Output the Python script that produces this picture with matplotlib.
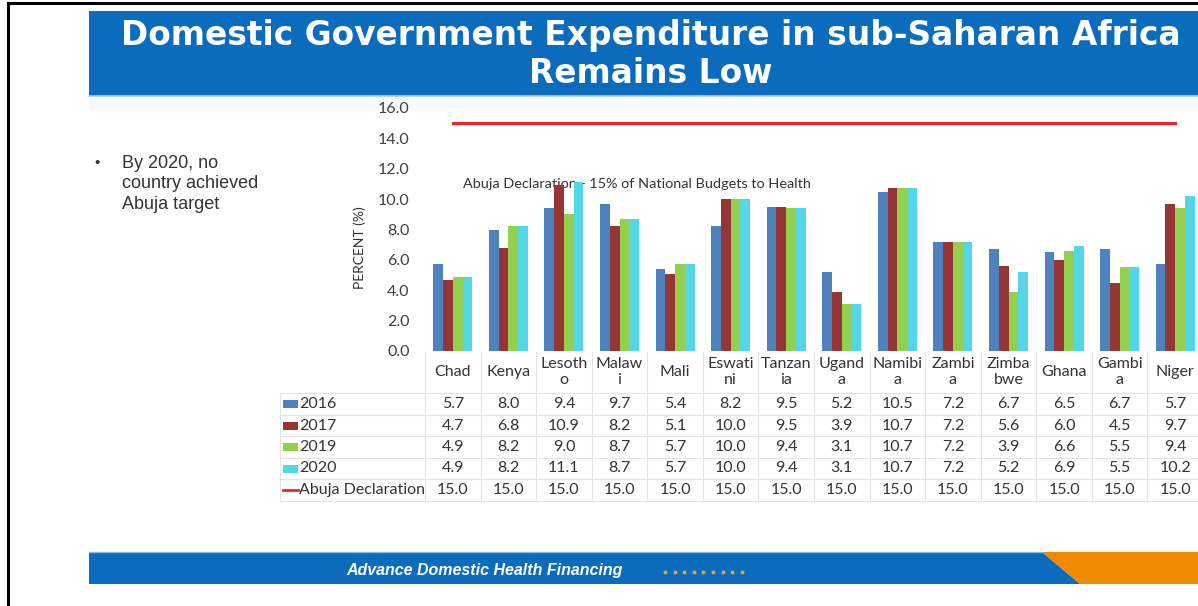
import matplotlib
matplotlib.use("Agg")
import matplotlib.pyplot as plt
from matplotlib import transforms
from matplotlib.patches import Rectangle, Polygon
from matplotlib.lines import Line2D

# ---------------- data ----------------
countries = ["Chad", "Kenya", "Lesotho", "Malawi", "Mali", "Eswatini", "Tanzania",
             "Uganda", "Namibia", "Zambia", "Zimbabwe", "Ghana", "Gambia", "Niger"]
country_labels = ["Chad", "Kenya", "Lesoth\no", "Malaw\ni", "Mali", "Eswati\nni",
                  "Tanzan\nia", "Ugand\na", "Namibi\na", "Zambi\na", "Zimba\nbwe",
                  "Ghana", "Gambi\na", "Niger"]
v2016 = [5.7, 8.0, 9.4, 9.7, 5.4, 8.2, 9.5, 5.2, 10.5, 7.2, 6.7, 6.5, 6.7, 5.7]
v2017 = [4.7, 6.8, 10.9, 8.2, 5.1, 10.0, 9.5, 3.9, 10.7, 7.2, 5.6, 6.0, 4.5, 9.7]
v2019 = [4.9, 8.2, 9.0, 8.7, 5.7, 10.0, 9.4, 3.1, 10.7, 7.2, 3.9, 6.6, 5.5, 9.4]
v2020 = [4.9, 8.2, 11.1, 8.7, 5.7, 10.0, 9.4, 3.1, 10.7, 7.2, 5.2, 6.9, 5.5, 10.2]
abuja = [15.0, 15.0, 15.0, 15.0, 15.0, 15.0, 15.0, 15.0, 15.0, 15.0, 15.0, 15.0, 15.0, 15.0]
series_names = ["2016", "2017", "2019", "2020"]
line_name = "Abuja Declaration"
y_ticks = [0, 2, 4, 6, 8, 10, 12, 14, 16]
y_tick_labels = ["0.0", "2.0", "4.0", "6.0", "8.0", "10.0", "12.0", "14.0", "16.0"]

title_lines = ["Domestic Government Expenditure in sub-Saharan Africa", "Remains Low"]
bullet_lines = ["By 2020, no", "country achieved", "Abuja target"]
annotation = "Abuja Declaration - 15% of National Budgets to Health"
footer = "Advance Domestic Health Financing"

# ---------------- style ----------------
colors = ["#4F81BD", "#963634", "#92D050", "#55D6E6"]
red = "#E8262C"
banner_blue = "#0B6BBD"
orange = "#F08A00"
txt_col = "#333333"
grid_col = "#E4E4E4"
tfont = ["Lato", "DejaVu Sans"]

W, H = 1198, 606
fig = plt.figure(figsize=(W / 100, H / 100), dpi=100)
fig.patch.set_facecolor("white")

def fx(p):
    return p / W

def fy(p):
    return 1 - p / H

# frame
fig.add_artist(Line2D([fx(8), fx(8)], [fy(3), fy(606)], color="black", lw=2.2,
                      transform=fig.transFigure))
fig.add_artist(Line2D([fx(8), fx(1198)], [fy(3), fy(3)], color="black", lw=2.2,
                      transform=fig.transFigure))

# title banner
fig.add_artist(Rectangle((fx(89), fy(96)), fx(1198) - fx(89) + 0.01, fy(11) - fy(96),
                         facecolor=banner_blue, edgecolor="none", transform=fig.transFigure))
fig.add_artist(Line2D([fx(89), fx(1200)], [fy(96), fy(96)], color="#A9CBEA", lw=1.2,
                      transform=fig.transFigure))
band = Rectangle((fx(89), fy(110)), fx(1198) - fx(89) + 0.01, fy(97) - fy(110),
                 facecolor="#F7F9FC", edgecolor="none", transform=fig.transFigure)
band.set_zorder(-1)
fig.add_artist(band)
for k, (line, base) in enumerate(zip(title_lines, [45, 83])):
    fig.text(fx(651), fy(base), line, ha="center", va="baseline", color="white",
             fontsize=23.7, fontweight="bold", family="DejaVu Sans")

# bullet
fig.text(fx(94), fy(163), "•", ha="left", va="center", fontsize=11,
         family="Liberation Sans", color=txt_col)
for k, line in enumerate(bullet_lines):
    fig.text(fx(122), fy(163 + 21 * k), line, ha="left", va="center", fontsize=13,
             family="Liberation Sans", color=txt_col)

# footer
fig.add_artist(Polygon([(fx(89), fy(552)), (fx(1042), fy(552)), (fx(1080), fy(584)),
                        (fx(89), fy(584))], closed=True, facecolor=banner_blue,
                       edgecolor="none", transform=fig.transFigure))
fig.add_artist(Polygon([(fx(1042), fy(552)), (fx(1200), fy(552)), (fx(1200), fy(584)),
                        (fx(1080), fy(584))], closed=True, facecolor=orange,
                       edgecolor="none", transform=fig.transFigure))
fig.add_artist(Line2D([fx(89), fx(1042)], [fy(552), fy(552)], color="#8DB8E0", lw=1,
                      transform=fig.transFigure))
fig.text(fx(485), fy(570), footer, ha="center", va="center", color="white",
         fontsize=11.5, fontweight="bold", fontstyle="italic", family="Liberation Sans")
for k in range(9):
    fig.add_artist(Line2D([fx(665 + 9.6 * k)], [fy(572)], marker="o", ms=1.8,
                          color="#F3A31B", transform=fig.transFigure))

# ---------------- chart ----------------
ax = fig.add_axes([fx(425), fy(351), (1203 - 425) / W, (351 - 108) / H])
ax.set_facecolor("none")
n = len(countries)
xs = list(range(n))
bw = 0.175
all_series = [v2016, v2017, v2019, v2020]
for j, (vals, c) in enumerate(zip(all_series, colors)):
    ax.bar([x + (j - 1.5) * bw for x in xs], vals, width=bw, color=c, zorder=3,
           linewidth=0)
ax.plot(xs, abuja, color=red, lw=2.2, zorder=3)
ax.text(3.31, 11.0, annotation, ha="center", va="center", fontsize=10.4,
        family=tfont, color=txt_col, zorder=1)

ax.set_xlim(-0.5, n - 0.5)
ax.set_ylim(0, 16)
ax.set_yticks(y_ticks)
ax.set_yticklabels(y_tick_labels, family=tfont, fontsize=11.5, color="#404040")
ax.set_xticks([])
ax.tick_params(axis="y", length=0, pad=11)
for s in ax.spines.values():
    s.set_visible(False)
ax.set_ylabel("PERCENT (%)", family=tfont, fontsize=10, color=txt_col)
ax.yaxis.set_label_coords((366 - 425) / 778, (351 - 248) / 243)

# ---------------- data table ----------------
tr = transforms.blended_transform_factory(ax.transData, fig.transFigure)
tf = fig.transFigure
row_y = [404, 425.5, 447, 468.5, 490]
row_edges = [393, 414.5, 436, 457.5, 479, 500.5]
tsize = 11.5

for k, e in enumerate(row_edges):
    fig.add_artist(Line2D([fx(280), fx(1200)], [fy(e), fy(e)], color=grid_col, lw=0.8,
                          transform=tf))
for i in range(n + 1):
    fig.add_artist(Line2D([i - 0.5, i - 0.5], [fy(352), fy(500.5)], color=grid_col,
                          lw=0.8, transform=tr))
fig.add_artist(Line2D([fx(280), fx(280)], [fy(393), fy(500.5)], color=grid_col, lw=0.8,
                      transform=tf))

for i, lab in enumerate(country_labels):
    fig.text(i, fy(372), lab, transform=tr, ha="center", va="center", fontsize=tsize,
             family=tfont, color=txt_col, linespacing=1.25)

for r, (name, vals) in enumerate(zip(series_names + [line_name], all_series + [abuja])):
    yc = fy(row_y[r])
    if r < 4:
        fig.add_artist(Rectangle((fx(283), yc - 4 / H), 15 / W, 8 / H,
                                 facecolor=colors[r], edgecolor="none", transform=tf))
    else:
        fig.add_artist(Line2D([fx(283), fx(298)], [yc, yc], color=red, lw=2,
                              transform=tf))
    fig.text(fx(299), yc, name, ha="left", va="center", fontsize=tsize, family=tfont,
             color=txt_col)
    for i, v in enumerate(vals):
        fig.text(i, yc, f"{v:.1f}", transform=tr, ha="center", va="center",
                 fontsize=tsize, family=tfont, color=txt_col)

fig.savefig("out.png", dpi=100)
